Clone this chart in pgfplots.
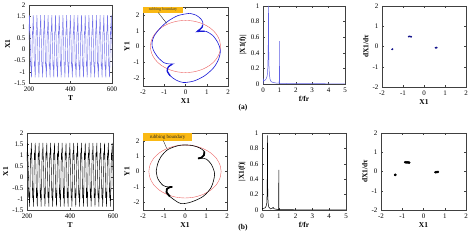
\documentclass[border=0pt]{standalone}
\usepackage{fontspec}
\setmainfont{Liberation Serif}
\usepackage{pgfplots}
\pgfplotsset{compat=1.18}
\usepackage{pgfplotstable}

\pgfplotstableread{
T A B
197.0 0.1 0.1
198.5 0.8 1.1
199.5 0.66 0.78
202.5 1.55 1.55
206.0 0.3 0.3
208.0 -0.75 -0.95
209.0 -0.55 -0.5
212.0 -1.25 -1.35
214.0 -0.6 -0.6
214.9 0.1 0.1
216.4 0.8 1.1
217.4 0.66 0.78
220.4 1.55 1.55
223.9 0.3 0.3
225.9 -0.75 -0.95
226.9 -0.55 -0.5
229.9 -1.25 -1.35
231.9 -0.6 -0.6
232.8 0.1 0.1
234.3 0.8 1.1
235.3 0.66 0.78
238.3 1.55 1.55
241.8 0.3 0.3
243.8 -0.75 -0.95
244.8 -0.55 -0.5
247.8 -1.25 -1.35
249.8 -0.6 -0.6
250.7 0.1 0.1
252.2 0.8 1.1
253.2 0.66 0.78
256.2 1.55 1.55
259.7 0.3 0.3
261.7 -0.75 -0.95
262.7 -0.55 -0.5
265.7 -1.25 -1.35
267.7 -0.6 -0.6
268.6 0.1 0.1
270.1 0.8 1.1
271.1 0.66 0.78
274.1 1.55 1.55
277.6 0.3 0.3
279.6 -0.75 -0.95
280.6 -0.55 -0.5
283.6 -1.25 -1.35
285.6 -0.6 -0.6
286.5 0.1 0.1
288.0 0.8 1.1
289.0 0.66 0.78
292.0 1.55 1.55
295.5 0.3 0.3
297.5 -0.75 -0.95
298.5 -0.55 -0.5
301.5 -1.25 -1.35
303.5 -0.6 -0.6
304.4 0.1 0.1
305.9 0.8 1.1
306.9 0.66 0.78
309.9 1.55 1.55
313.4 0.3 0.3
315.4 -0.75 -0.95
316.4 -0.55 -0.5
319.4 -1.25 -1.35
321.4 -0.6 -0.6
322.3 0.1 0.1
323.8 0.8 1.1
324.8 0.66 0.78
327.8 1.55 1.55
331.3 0.3 0.3
333.3 -0.75 -0.95
334.3 -0.55 -0.5
337.3 -1.25 -1.35
339.3 -0.6 -0.6
340.2 0.1 0.1
341.7 0.8 1.1
342.7 0.66 0.78
345.7 1.55 1.55
349.2 0.3 0.3
351.2 -0.75 -0.95
352.2 -0.55 -0.5
355.2 -1.25 -1.35
357.2 -0.6 -0.6
358.1 0.1 0.1
359.6 0.8 1.1
360.6 0.66 0.78
363.6 1.55 1.55
367.1 0.3 0.3
369.1 -0.75 -0.95
370.1 -0.55 -0.5
373.1 -1.25 -1.35
375.1 -0.6 -0.6
376.0 0.1 0.1
377.5 0.8 1.1
378.5 0.66 0.78
381.5 1.55 1.55
385.0 0.3 0.3
387.0 -0.75 -0.95
388.0 -0.55 -0.5
391.0 -1.25 -1.35
393.0 -0.6 -0.6
393.9 0.1 0.1
395.4 0.8 1.1
396.4 0.66 0.78
399.4 1.55 1.55
402.9 0.3 0.3
404.9 -0.75 -0.95
405.9 -0.55 -0.5
408.9 -1.25 -1.35
410.9 -0.6 -0.6
411.8 0.1 0.1
413.3 0.8 1.1
414.3 0.66 0.78
417.3 1.55 1.55
420.8 0.3 0.3
422.8 -0.75 -0.95
423.8 -0.55 -0.5
426.8 -1.25 -1.35
428.8 -0.6 -0.6
429.7 0.1 0.1
431.2 0.8 1.1
432.2 0.66 0.78
435.2 1.55 1.55
438.7 0.3 0.3
440.7 -0.75 -0.95
441.7 -0.55 -0.5
444.7 -1.25 -1.35
446.7 -0.6 -0.6
447.6 0.1 0.1
449.1 0.8 1.1
450.1 0.66 0.78
453.1 1.55 1.55
456.6 0.3 0.3
458.6 -0.75 -0.95
459.6 -0.55 -0.5
462.6 -1.25 -1.35
464.6 -0.6 -0.6
465.5 0.1 0.1
467.0 0.8 1.1
468.0 0.66 0.78
471.0 1.55 1.55
474.5 0.3 0.3
476.5 -0.75 -0.95
477.5 -0.55 -0.5
480.5 -1.25 -1.35
482.5 -0.6 -0.6
483.4 0.1 0.1
484.9 0.8 1.1
485.9 0.66 0.78
488.9 1.55 1.55
492.4 0.3 0.3
494.4 -0.75 -0.95
495.4 -0.55 -0.5
498.4 -1.25 -1.35
500.4 -0.6 -0.6
501.3 0.1 0.1
502.8 0.8 1.1
503.8 0.66 0.78
506.8 1.55 1.55
510.3 0.3 0.3
512.3 -0.75 -0.95
513.3 -0.55 -0.5
516.3 -1.25 -1.35
518.3 -0.6 -0.6
519.2 0.1 0.1
520.7 0.8 1.1
521.7 0.66 0.78
524.7 1.55 1.55
528.2 0.3 0.3
530.2 -0.75 -0.95
531.2 -0.55 -0.5
534.2 -1.25 -1.35
536.2 -0.6 -0.6
537.1 0.1 0.1
538.6 0.8 1.1
539.6 0.66 0.78
542.6 1.55 1.55
546.1 0.3 0.3
548.1 -0.75 -0.95
549.1 -0.55 -0.5
552.1 -1.25 -1.35
554.1 -0.6 -0.6
555.0 0.1 0.1
556.5 0.8 1.1
557.5 0.66 0.78
560.5 1.55 1.55
564.0 0.3 0.3
566.0 -0.75 -0.95
567.0 -0.55 -0.5
570.0 -1.25 -1.35
572.0 -0.6 -0.6
572.9 0.1 0.1
574.4 0.8 1.1
575.4 0.66 0.78
578.4 1.55 1.55
581.9 0.3 0.3
583.9 -0.75 -0.95
584.9 -0.55 -0.5
587.9 -1.25 -1.35
589.9 -0.6 -0.6
590.8 0.1 0.1
592.3 0.8 1.1
593.3 0.66 0.78
596.3 1.55 1.55
599.8 0.3 0.3
601.8 -0.75 -0.95
602.8 -0.55 -0.5
605.8 -1.25 -1.35
607.8 -0.6 -0.6
608.7 0.1 0.1
}\tsdata

\definecolor{tsblue}{RGB}{115,115,232}
\definecolor{fftblue}{RGB}{95,95,228}
\definecolor{orbblue}{RGB}{25,25,215}
\definecolor{rubred}{RGB}{235,95,95}
\definecolor{boxorange}{RGB}{250,185,20}
\definecolor{ptblue}{RGB}{20,20,140}

\pgfplotsset{
  panel/.style={scale only axis, anchor=south west,
    axis line style={black!75, line width=0.4pt},
    major tick length=2bp, tick style={black!75, line width=0.3pt},
    /pgf/number format/assume math mode=true,
    tick label style={font=\fontsize{7}{8}\selectfont},
    label style={font=\fontsize{7.5}{8}\selectfont\bfseries},
    xlabel style={yshift=2.5bp}, ylabel style={yshift=-2.5bp}
  }
}

\begin{document}
\begin{tikzpicture}
\useasboundingbox (0,0) rectangle (474bp,243bp);

% ---------- row (a) ----------
\begin{axis}[panel, at={(29bp,160bp)}, width=83bp, height=78bp,
  xmin=200, xmax=600, ymin=-1.5, ymax=2,
  xtick={200,400,600}, ytick={-1.5,-1,-0.5,0,0.5,1,1.5,2},
  xlabel={T}, ylabel={X1}]
\addplot[tsblue, line width=0.45pt] table[x=T,y=A]{\tsdata};
\end{axis}

\begin{axis}[panel, at={(143bp,157bp)}, width=85bp, height=79bp,
  xmin=-2, xmax=2, ymin=-2.5, ymax=2.5,
  xtick={-2,-1,0,1,2}, ytick={-2,-1,0,1,2},
  xlabel={X1}, ylabel={Y1}]
\addplot[rubred, line width=0.4pt, smooth] coordinates {
(1.65,0) (1.594,0.427) (1.429,0.825) (1.167,1.167) (0.825,1.429) (0.427,1.594)
(0,1.65) (-0.427,1.594) (-0.825,1.429) (-1.167,1.167) (-1.429,0.825) (-1.594,0.427)
(-1.65,0) (-1.594,-0.427) (-1.429,-0.825) (-1.167,-1.167) (-0.825,-1.429) (-0.427,-1.594)
(0,-1.65) (0.427,-1.594) (0.825,-1.429) (1.167,-1.167) (1.429,-0.825) (1.594,-0.427) (1.65,0)};
\addplot[orbblue, line width=0.6pt, smooth, tension=0.5] coordinates {
(0.2,2.1) (0.5,1.98) (0.72,1.75) (0.82,1.5) (0.78,1.22) (0.62,1.02) (0.55,0.95)
(0.72,0.97) (0.98,0.95) (1.28,0.7) (1.52,0.25) (1.64,-0.25) (1.56,-0.8) (1.32,-1.35)
(0.9,-1.85) (0.4,-2.18) (-0.1,-2.28) (-0.45,-2.12) (-0.72,-1.85) (-0.86,-1.55)
(-0.8,-1.28) (-0.62,-1.12) (-0.58,-1.1) (-0.78,-1.1) (-1.02,-1.02) (-1.32,-0.65)
(-1.52,-0.2) (-1.58,0.2) (-1.48,0.65) (-1.22,1.12) (-0.85,1.58) (-0.35,1.96) (0.2,2.1)};
\addplot[orbblue, line width=1.3pt, smooth, tension=0.5] coordinates {
(0.8,1.35) (0.78,1.22) (0.62,1.02) (0.55,0.95) (0.72,0.97) (0.9,0.96)};
\addplot[orbblue, line width=1.3pt, smooth, tension=0.5] coordinates {
(-0.72,-1.85) (-0.86,-1.55) (-0.8,-1.28) (-0.62,-1.12)};
\node[fill=boxorange, font=\fontsize{4}{4}\selectfont, inner sep=0.8bp,
  minimum width=40bp, minimum height=6bp, text=black!80] at (axis cs:-1.06,2.31) {rubbing boundary};
\draw[black, line width=0.3pt] (axis cs:-1.28,2.14) -- (axis cs:-0.89,1.47);
\end{axis}

\begin{axis}[panel, at={(263bp,159bp)}, width=82bp, height=78bp,
  xmin=0, xmax=5, ymin=0, ymax=1,
  xtick={0,1,2,3,4,5}, ytick={0,0.2,0.4,0.6,0.8,1},
  xlabel={f/fr}, ylabel={|X1(f)|}]
\addplot[fftblue, line width=0.5pt] coordinates {
(0,0) (0.02,0.06) (0.05,0.04) (0.1,0.045) (0.15,0.055) (0.2,0.07) (0.25,0.1)
(0.28,0.15) (0.3,0.25) (0.32,0.5) (0.333,1.0) (0.345,0.5) (0.36,0.25) (0.39,0.12)
(0.43,0.06) (0.5,0.03) (0.6,0.02) (0.8,0.012) (0.99,0.01) (1.0,0.55) (1.01,0.008)
(1.5,0.006) (2,0.005) (3,0.004) (4,0.003) (5,0.003)};
\end{axis}

\begin{axis}[panel, at={(382bp,156bp)}, width=84bp, height=81bp,
  xmin=-2, xmax=2, ymin=-2, ymax=2,
  xtick={-2,-1,0,1,2}, ytick={-2,-1,0,1,2},
  xlabel={X1}, ylabel={dX1/dτ}]
\addplot[only marks, mark=*, mark size=0.6pt, color=ptblue] coordinates {
(-1.52,-0.14) (-1.50,-0.13) (-0.73,0.49) (-0.69,0.50) (-0.65,0.49) (-0.61,0.48)
(0.55,-0.06) (0.58,-0.05) (0.61,-0.06)};
\end{axis}

\node[font=\fontsize{7.5}{8}\selectfont\bfseries] at (243bp,135bp) {(a)};

% ---------- row (b) ----------
\begin{axis}[panel, at={(27bp,33bp)}, width=86bp, height=77bp,
  xmin=200, xmax=600, ymin=-1.5, ymax=2,
  xtick={200,400,600}, ytick={-1.5,-1,-0.5,0,0.5,1,1.5,2},
  xlabel={T}, ylabel={X1}]
\addplot[black, line width=0.4pt] table[x=T,y=B]{\tsdata};
\end{axis}

\begin{axis}[panel, at={(143bp,33bp)}, width=84bp, height=77bp,
  xmin=-2, xmax=2, ymin=-2.5, ymax=2.5,
  xtick={-2,-1,0,1,2}, ytick={-2,-1,0,1,2},
  xlabel={X1}, ylabel={Y1}]
\addplot[rubred, line width=0.4pt, smooth] coordinates {
(1.72,0) (1.661,0.445) (1.490,0.86) (1.216,1.216) (0.86,1.490) (0.445,1.661)
(0,1.72) (-0.445,1.661) (-0.86,1.490) (-1.216,1.216) (-1.490,0.86) (-1.661,0.445)
(-1.72,0) (-1.661,-0.445) (-1.490,-0.86) (-1.216,-1.216) (-0.86,-1.490) (-0.445,-1.661)
(0,-1.72) (0.445,-1.661) (0.86,-1.490) (1.216,-1.216) (1.490,-0.86) (1.661,-0.445) (1.72,0)};
\addplot[black, line width=0.6pt, smooth, tension=0.5] coordinates {
(-1.37,0.04) (-1.3,0.5) (-1.15,0.95) (-0.81,1.43) (-0.25,1.7) (0.3,1.7) (0.7,1.53)
(0.92,1.3) (0.9,1.05) (0.78,0.9) (0.62,0.85) (0.8,0.86) (1.02,0.8) (1.25,0.47)
(1.41,-0.17) (1.25,-1.02) (0.86,-1.62) (0.3,-1.98) (-0.17,-2.09) (-0.45,-1.9)
(-0.72,-1.62) (-0.88,-1.34) (-0.86,-1.13) (-0.73,-1.02) (-0.6,-1.0) (-0.8,-1.0)
(-1.05,-0.9) (-1.3,-0.45) (-1.37,0.04)};
\addplot[black, line width=1.8pt, smooth, tension=0.5] coordinates {
(0.92,1.3) (0.9,1.05) (0.78,0.9) (0.62,0.85)};
\addplot[black, line width=1.8pt, smooth, tension=0.5] coordinates {
(-0.72,-1.62) (-0.88,-1.34) (-0.86,-1.13) (-0.73,-1.02) (-0.6,-1.0)};
\node[fill=boxorange, font=\fontsize{5}{5}\selectfont, inner sep=0.8bp,
  minimum width=49bp, minimum height=7.5bp, text=black!85] at (axis cs:-0.83,2.24) {rubbing boundary};
\draw[black, line width=0.3pt] (axis cs:-1.03,2.0) -- (axis cs:-0.87,1.5);
\end{axis}

\begin{axis}[panel, at={(262bp,33bp)}, width=84bp, height=77bp,
  xmin=0, xmax=5, ymin=0, ymax=1,
  xtick={0,1,2,3,4,5}, ytick={0,0.2,0.4,0.6,0.8,1},
  xlabel={f/fr}, ylabel={|X1(f)|}]
\addplot[black, line width=0.5pt] coordinates {
(0,0) (0.02,0.02) (0.1,0.02) (0.2,0.03) (0.26,0.06) (0.29,0.1) (0.31,0.3)
(0.325,0.97) (0.34,0.3) (0.36,0.1) (0.4,0.04) (0.5,0.015) (0.6,0.02) (0.66,0.035)
(0.72,0.015) (0.99,0.005) (1.0,0.52) (1.01,0.005) (2,0.003) (5,0.002)};
\end{axis}

\begin{axis}[panel, at={(381bp,33bp)}, width=85bp, height=77bp,
  xmin=-2, xmax=2, ymin=-2, ymax=2,
  xtick={-2,-1,0,1,2}, ytick={-2,-1,0,1,2},
  xlabel={X1}, ylabel={dX1/dτ}]
\addplot[only marks, mark=*, mark size=1pt, color=black] coordinates {
(-1.34,-0.17) (-1.32,-0.18) (-0.86,0.48) (-0.82,0.48) (-0.78,0.47) (-0.74,0.47)
(-0.70,0.47) (-0.67,0.46) (0.56,-0.04) (0.60,-0.03) (0.64,-0.03) (0.68,-0.02)};
\end{axis}

\node[font=\fontsize{7.5}{8}\selectfont\bfseries] at (243bp,15bp) {(b)};
\end{tikzpicture}
\end{document}
